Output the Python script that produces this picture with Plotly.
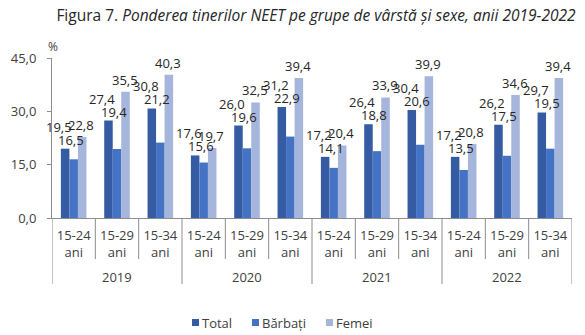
import plotly.graph_objects as go

# NEET share (%) by age group and sex, 2019-2022
years = ["2019", "2020", "2021", "2022"]
age_groups = ["15-24<br>ani", "15-29<br>ani", "15-34<br>ani"]
series_names = ["Total", "Bărbați", "Femei"]

total = [19.5, 27.4, 30.8, 17.6, 26.0, 31.2, 17.2, 26.4, 30.4, 17.2, 26.2, 29.7]
barbati = [16.5, 19.4, 21.2, 15.6, 19.6, 22.9, 14.1, 18.8, 20.6, 13.5, 17.5, 19.5]
femei = [22.8, 35.5, 40.3, 19.7, 32.5, 39.4, 20.4, 33.9, 39.9, 20.8, 34.6, 39.4]

y_ticks = [0, 15, 30, 45]

n_grp = len(age_groups)
pos = list(range(len(years) * n_grp))          # one slot per (year, age group)
inner = [g for _ in years for g in age_groups]

FONT = "Open Sans"
TXT = "#404040"
LBL = "#262626"
AXIS = "#8c8c8c"
colors = ["#355CA3", "#4472C4", "#A6B5DB"]

W, H = 585, 335
M = dict(l=52, r=13, t=58, b=117)
PW = W - M["l"] - M["r"]
PH = H - M["t"] - M["b"]


def px_x(x):
    return (x - M["l"]) / PW


def px_y(y):
    return (H - M["b"] - y) / PH


fig = go.Figure()
for name, vals, col in zip(series_names, [total, barbati, femei], colors):
    fig.add_trace(go.Bar(x=pos, y=vals, name=name, showlegend=False,
                         marker=dict(color=col, line=dict(width=0))))

bargap = 0.41
w = (1 - bargap) / 3


def fmt(v):
    return f"{v:.1f}".replace(".", ",")


ann = []
for i in pos:
    top_tb = max(total[i], barbati[i])
    ann.append(dict(x=i - w, y=total[i], text=fmt(total[i]), xshift=-6, yshift=22))
    ann.append(dict(x=i, y=top_tb, text=fmt(barbati[i]), xshift=-3, yshift=9))
    ann.append(dict(x=i + w, y=femei[i], text=fmt(femei[i]), xshift=-1, yshift=12))
for a in ann:
    a.update(xref="x", yref="y", showarrow=False, yanchor="middle",
             font=dict(family=FONT, size=13, color=LBL))

ann.append(dict(x=px_x(53), y=px_y(46), xref="paper", yref="paper", text="%",
                showarrow=False, xanchor="center", yanchor="middle",
                font=dict(family=FONT, size=12, color=TXT)))

shapes = []
# separators between age groups and longer ones between years
for b in range(len(pos) + 1):
    long_line = b % n_grp == 0
    shapes.append(dict(type="line", xref="x", yref="paper", layer="below",
                       x0=b - 0.5, x1=b - 0.5, y0=0,
                       y1=px_y(284 if long_line else 259),
                       line=dict(color=AXIS, width=1)))
# year labels centred under their groups
for k, yr in enumerate(years):
    ann.append(dict(x=k * n_grp + (n_grp - 1) / 2, y=px_y(277), xref="x", yref="paper",
                    text=yr, showarrow=False, yanchor="middle",
                    font=dict(family=FONT, size=13, color=TXT)))

# legend: small squares followed by the series names
legend_left = [192, 252, 326]
for name, col, x0 in zip(series_names, colors, legend_left):
    shapes.append(dict(type="rect", xref="paper", yref="paper",
                       x0=px_x(x0), x1=px_x(x0 + 7), y0=px_y(326), y1=px_y(319),
                       fillcolor=col, line=dict(width=0)))
    ann.append(dict(x=px_x(x0 + 8), y=px_y(322.5), xref="paper", yref="paper",
                    text=name, showarrow=False, xanchor="left", yanchor="middle",
                    font=dict(family=FONT, size=13, color=TXT)))

fig.update_layout(
    width=W, height=H,
    margin=M,
    paper_bgcolor="white", plot_bgcolor="white",
    separators=",.",
    barmode="group", bargap=bargap, bargroupgap=0,
    showlegend=False,
    title=dict(text="Figura 7. <i>Ponderea tinerilor NEET pe grupe de vârstă și sexe, anii 2019-2022</i>",
               x=316 / W, xanchor="center", y=1 - 16 / H, yanchor="middle",
               font=dict(family=FONT, size=15.5, color=LBL)),
    xaxis=dict(range=[-0.5, len(pos) - 0.5], tickvals=pos, ticktext=inner,
               showline=True, linecolor=AXIS, linewidth=1, ticks="",
               tickangle=0, ticklabelstandoff=5, showgrid=False, zeroline=False,
               tickfont=dict(family=FONT, size=13, color=TXT)),
    yaxis=dict(range=[0, 45], tickvals=y_ticks, tickformat=".1f", showgrid=False,
               showline=True, linecolor=AXIS, ticks="outside", ticklen=4, tickcolor=AXIS,
               ticklabelstandoff=8,
               tickfont=dict(family=FONT, size=13, color=TXT), zeroline=False),
    annotations=ann,
    shapes=shapes,
)

fig.write_html("out.html")
